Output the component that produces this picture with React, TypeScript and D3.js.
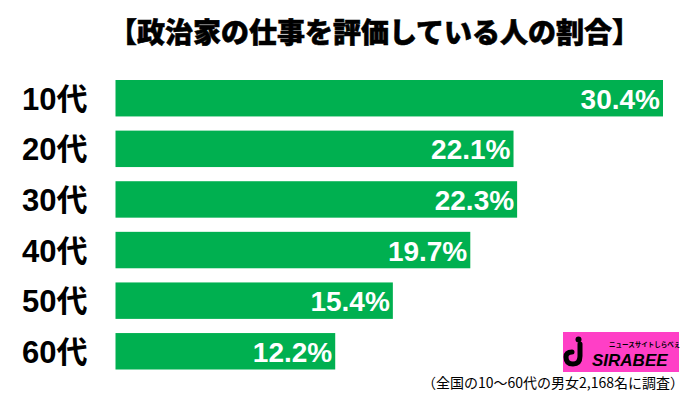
import React from "react";
import * as d3 from "d3";

const title = "【政治家の仕事を評価している人の割合】";
const categories = ["10代", "20代", "30代", "40代", "50代", "60代"];
const values = [30.4, 22.1, 22.3, 19.7, 15.4, 12.2];
const note = "（全国の10～60代の男女2,168名に調査）";

const W = 700;
const H = 399;

export default function App() {
  const x = d3.scaleLinear().domain([0, 30.4]).range([115.5, 663]);
  const y = d3
    .scaleBand<string>()
    .domain(categories)
    .range([80, 369.5])
    .paddingInner(0.28)
    .paddingOuter(0);
  const green = "#00b050";
  const jp = "'Noto Sans CJK JP', 'Noto Sans', sans-serif";
  const latin = "'Liberation Sans', Arial, 'Noto Sans CJK JP', sans-serif";

  return (
    <svg
      width={W}
      height={H}
      style={{ position: "absolute", left: 0, top: 0, background: "#fff" }}
    >
      <rect x={0} y={0} width={W} height={H} fill="#fff" />
      <text
        x={374.5}
        y={31}
        textAnchor="middle"
        dominantBaseline="central"
        fontFamily={jp}
        fontWeight={900}
        fontSize={28}
        fill="#000"
        stroke="#000"
        strokeWidth={0.6}
      >
        {title}
      </text>
      {categories.map((c, i) => {
        const yy = y(c)!;
        const bh = y.bandwidth();
        return (
          <g key={c}>
            <rect x={x(0)} y={yy} width={x(values[i]) - x(0)} height={bh} fill={green} />
            <text
              x={22}
              y={yy + bh / 2 + 1}
              dominantBaseline="central"
              fontFamily={latin}
              fontWeight={700}
              fontSize={31}
              fill="#000"
            >
              {c}
            </text>
            <text
              x={x(values[i]) - 3}
              y={yy + bh / 2 + 1}
              textAnchor="end"
              dominantBaseline="central"
              fontFamily={latin}
              fontWeight={700}
              fontSize={28}
              fill="#fff"
            >
              {values[i].toFixed(1) + "%"}
            </text>
          </g>
        );
      })}
      {/* logo */}
      <g>
        <rect x={563} y={332} width={116} height={40} fill="#ff3fc6" />
        <circle cx={578.5} cy={339.5} r={3} fill="#000" />
        <path
          d="M580 344 L580 356 Q580 364 573 364 Q566 364 566 357 Q566 352 572 352"
          fill="none"
          stroke="#000"
          strokeWidth={5}
          strokeLinecap="round"
        />
        <text
          x={609}
          y={344}
          dominantBaseline="central"
          fontFamily={jp}
          fontWeight={700}
          fontSize={6.5}
          fill="#000"
        >
          ニュースサイトしらべぇ
        </text>
        <text
          x={592}
          y={366}
          fontFamily={latin}
          fontWeight={700}
          fontStyle="italic"
          fontSize={17}
          fill="#000"
        >
          SIRABEE
        </text>
      </g>
      <text
        x={684}
        y={382}
        textAnchor="end"
        dominantBaseline="central"
        fontFamily={jp}
        fontSize={14}
        fill="#000"
      >
        {note}
      </text>
    </svg>
  );
}
